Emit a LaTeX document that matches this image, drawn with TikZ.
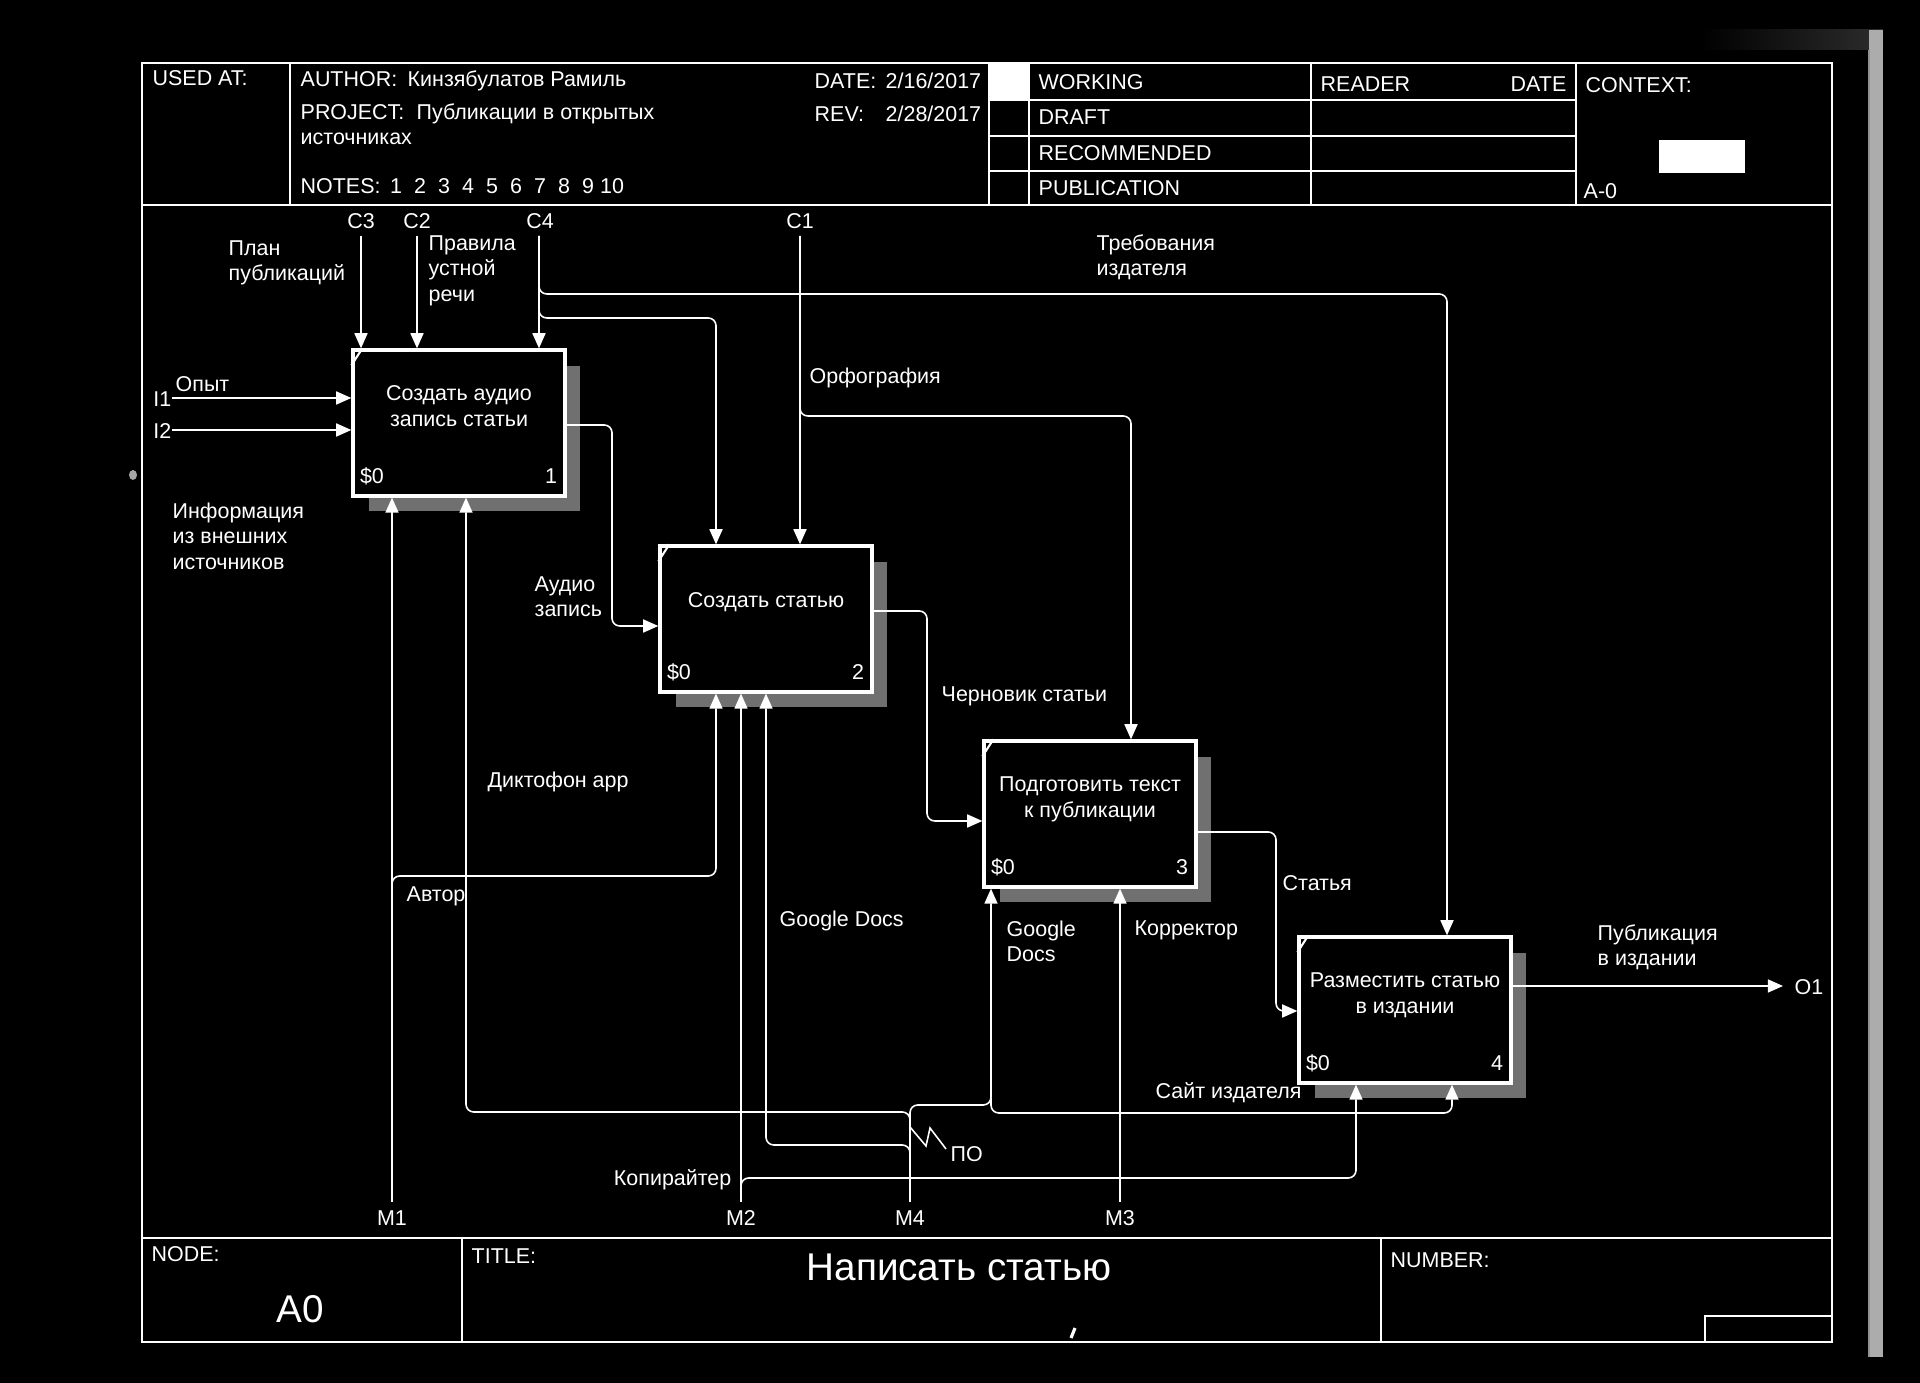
\documentclass[tikz,border=0pt]{standalone}
\usepackage{fontspec}
\setmainfont{Liberation Sans}
\usetikzlibrary{arrows.meta,calc}
\newcommand\fs{\fontsize{6.1pt}{7.3pt}\selectfont}
\newcommand\bigfs{\fontsize{11pt}{13pt}\selectfont}
\newcommand\st{\rule{0pt}{1em}}
\tikzset{
 lab/.style={font=\fs, text=white, inner sep=0pt, align=left, anchor=north west},
 labr/.style={lab, anchor=north east, align=right},
 labc/.style={lab, anchor=north, align=center},
 fbox/.style={draw=white, fill=black, line width=0.9pt, minimum width=2.12cm, minimum height=1.46cm, inner sep=0pt},
 arr/.style={draw=white, line width=0.45pt, rounded corners=2.2pt, -{Triangle[length=4.3pt,width=3.7pt]}},
 ln/.style={draw=white, line width=0.45pt},
 frm/.style={draw=white, line width=0.7pt},
 thinl/.style={draw=white, line width=0.5pt},
 shad/.style={fill={rgb,255:red,112;green,112;blue,112}},
}
\begin{document}
\begin{tikzpicture}[x=0.01cm,y=-0.01cm]
\useasboundingbox (0,0) rectangle (1920,1383);
\fill[black] (0,0) rectangle (1920,1383);
% scan edge artifacts
\shade[left color=black, right color=gray!35!black] (1700,30) rectangle (1883,50);
\fill[gray!65] (1869,30) rectangle (1883,1357);
\draw[gray!85, line width=0.6pt] (1869,50) -- (1869,1357);
\fill[gray!70] (133,475) ellipse (4 and 5);
\draw[white, line width=0.9pt] (1075,1328) -- (1071,1338);
% frame
\draw[frm] (142,63) rectangle (1832,1342);
\draw[frm] (142,205) -- (1832,205);
\draw[frm] (142,1238) -- (1832,1238);
\draw[thinl] (290,63) -- (290,205);
\draw[thinl] (989,63) -- (989,205);
\draw[thinl] (1029,63) -- (1029,205);
\draw[thinl] (1311,63) -- (1311,205);
\draw[thinl] (1576,63) -- (1576,205);
\foreach \yy in {100,136,171} \draw[thinl] (989,\yy) -- (1576,\yy);
\fill[white] (989,63) rectangle (1029,100);
\fill[white] (1659,140) rectangle (1745,173);
\draw[thinl] (462,1238) -- (462,1342);
\draw[thinl] (1381,1238) -- (1381,1342);
\draw[thinl] (1705,1342) |- (1832,1316);
% header texts
\node[lab] (usedat) at (152,63) {\st USED AT:};
\node[lab] (author) at (300,64) {\st AUTHOR:};
\node[lab] (authorv) at (407,64) {\st Кинзябулатов Рамиль};
\node[lab] (project) at (300,97) {\st PROJECT:};
\node[lab] (projectv) at (416,97) {\st Публикации в открытых};
\node[lab] (project2) at (300,122) {\st источниках};
\node[lab] (notes) at (300,171) {\st NOTES:};
\foreach \i in {1,...,10} \node[labc] (n\i) at ({396+24*(\i-1)},171) {\st\i};
\node[lab] (date) at (814,66) {\st DATE:};
\node[lab] (datev) at (885,66) {\st 2/16/2017};
\node[lab] (rev) at (814,99) {\st REV:};
\node[lab] (revv) at (885,99) {\st 2/28/2017};
\node[lab] (working) at (1038,67) {\st WORKING};
\node[lab] (draft) at (1038,102) {\st DRAFT};
\node[lab] (recom) at (1038,138) {\st RECOMMENDED};
\node[lab] (public) at (1038,173) {\st PUBLICATION};
\node[lab] (reader) at (1320,69) {\st READER};
\node[labr] (rdate) at (1567,69) {\st DATE};
\node[lab] (context) at (1585,70) {\st CONTEXT:};
\node[lab] (ctxnode) at (1583,176) {\st A-0};
% bottom texts
\node[lab] (nodel) at (151,1239) {\st NODE:};
\node[labc, font=\bigfs] (a0) at (300,1283) {\st A0};
\node[lab] (titlel) at (471,1241) {\st TITLE:};
\node[labc, font=\bigfs] (title) at (959,1241) {\st Написать статью};
\node[lab] (numberl) at (1390,1245) {\st NUMBER:};
% activity boxes (shadow geometry)
\coordinate (b1c) at (459,423);
\coordinate (b2c) at (766,619);
\coordinate (b3c) at (1090,814);
\coordinate (b4c) at (1405,1010);
\foreach \c in {b1c,b2c,b3c,b4c}
  \fill[shad] ($(\c)+(-90,-57)$) rectangle ($(\c)+(121,88)$);
% boundary coordinates
\coordinate (c3) at (361,236);
\coordinate (c2) at (417,236);
\coordinate (c4) at (539,236);
\coordinate (c1) at (800,236);
\coordinate (i1) at (172,398);
\coordinate (i2) at (172,430);
\coordinate (m1) at (392,1202);
\coordinate (m2) at (741,1202);
\coordinate (m4) at (910,1202);
\coordinate (m3) at (1120,1202);
\coordinate (o1) at (1783,986);
\coordinate (jn) at (991,1098);
% boxes
\node[fbox] (b1) at (b1c) {};
\node[fbox] (b2) at (b2c) {};
\node[fbox] (b3) at (b3c) {};
\node[fbox] (b4) at (b4c) {};
\foreach \b/\n in {b1/1,b2/2,b3/3,b4/4}{
  \draw[white, line width=0.6pt] ($(\b.north west)+(0,17)$) -- ($(\b.north west)+(11,0)$);
  \node[lab] (\b s) at ($(\b.north west)+(8,113)$) {\st\$0};
  \node[labr] (\b n) at ($(\b.north east)+(-9,113)$) {\st\n};
}
\node[labc] (t1) at ($(b1.north)+(0,30)$) {\st Создать аудио\\запись статьи};
\node[labc] (t2) at ($(b2.north)+(0,41)$) {\st Создать статью};
\node[labc] (t3) at ($(b3.north)+(0,30)$) {\st Подготовить текст\\к публикации};
\node[labc] (t4) at ($(b4.north)+(0,30)$) {\st Разместить статью\\в издании};
% controls
\draw[arr] (c3) -- (c3 |- b1.north);
\draw[arr] (c2) -- (c2 |- b1.north);
\draw[arr] (c4) -- (c4 |- b1.north);
\draw[arr] (c4) -- (539,294) -- (1447,294) -- (1447,0 |- b4.north);
\draw[arr] (c4) -- (539,318) -- (716,318) -- (716,0 |- b2.north);
\draw[arr] (c1) -- (c1 |- b2.north);
\draw[arr] (c1) -- (800,416) -- (1131,416) -- (1131,0 |- b3.north);
% inputs / outputs
\draw[arr] (i1) -- (i1 -| b1.west);
\draw[arr] (i2) -- (i2 -| b1.west);
\draw[arr] (b1.east |- 0,425) -- (612,425) -- (612,626) -- (b2.west |- 0,626);
\draw[arr] (b2.east |- 0,611) -- (927,611) -- (927,821) -- (b3.west |- 0,821);
\draw[arr] (b3.east |- 0,832) -- (1276,832) -- (1276,1011) -- (b4.west |- 0,1011);
\draw[arr] (b4.east |- o1) -- (o1);
% mechanisms
\draw[arr] (m1) -- (m1 |- b1.south);
\draw[arr] (m1) -- (392,876) -- (716,876) -- (716,0 |- b2.south);
\draw[arr] (m2) -- (m2 |- b2.south);
\draw[arr] (m2) -- (741,1178) -- (1356,1178) -- (1356,0 |- b4.south);
\draw[arr] (m3) -- (m3 |- b3.south);
\draw[arr] (m4) -- (910,1112) -- (466,1112) -- (466,0 |- b1.south);
\draw[arr] (m4) -- (910,1145) -- (766,1145) -- (766,0 |- b2.south);
\draw[arr] (m4) -- (910,1105) -- (991,1105) -- (991,0 |- b3.south);
\draw[arr] (jn) -- (991,1113) -- (1452,1113) -- (1452,0 |- b4.south);
\draw[ln] (910,1127) -- (926,1146) -- (930,1128) -- (946,1149);
% boundary labels
\node[labc] (lc3) at (361,206) {\st C3};
\node[labc] (lc2) at (417,206) {\st C2};
\node[labc] (lc4) at (540,206) {\st C4};
\node[labc] (lc1) at (800,206) {\st C1};
\node[labr] (li1) at (172,384) {\st I1};
\node[labr] (li2) at (172,416) {\st I2};
\node[lab] (lo1) at (1794,972) {\st O1};
\node[labc] (lm1) at (392,1203) {\st M1};
\node[labc] (lm2) at (741,1203) {\st M2};
\node[labc] (lm4) at (910,1203) {\st M4};
\node[labc] (lm3) at (1120,1203) {\st M3};
% arrow labels
\node[lab] (plan) at (228,233) {\st План\\публикаций};
\node[lab] (rules) at (428,228) {\st Правила\\устной\\речи};
\node[lab] (req) at (1096,228) {\st Требования\\издателя};
\node[lab] (orth) at (809,361) {\st Орфография};
\node[lab] (exp) at (175,369) {\st Опыт};
\node[lab] (info) at (172,496) {\st Информация\\из внешних\\источников};
\node[lab] (audio) at (534,569) {\st Аудио\\запись};
\node[lab] (draftl) at (941,679) {\st Черновик статьи};
\node[lab] (article) at (1282,868) {\st Статья};
\node[lab] (pub) at (1597,918) {\st Публикация\\в издании};
\node[lab] (authorl) at (406,879) {\st Автор};
\node[lab] (dict) at (487,765) {\st Диктофон app};
\node[lab] (gd2) at (779,904) {\st Google Docs};
\node[lab] (gd3) at (1006,914) {\st Google\\Docs};
\node[lab] (korr) at (1134,913) {\st Корректор};
\node[lab] (site) at (1155,1076) {\st Сайт издателя};
\node[labr] (copy) at (732,1163) {\st Копирайтер};
\node[lab] (po) at (950,1139) {\st ПО};
\end{tikzpicture}
\end{document}
